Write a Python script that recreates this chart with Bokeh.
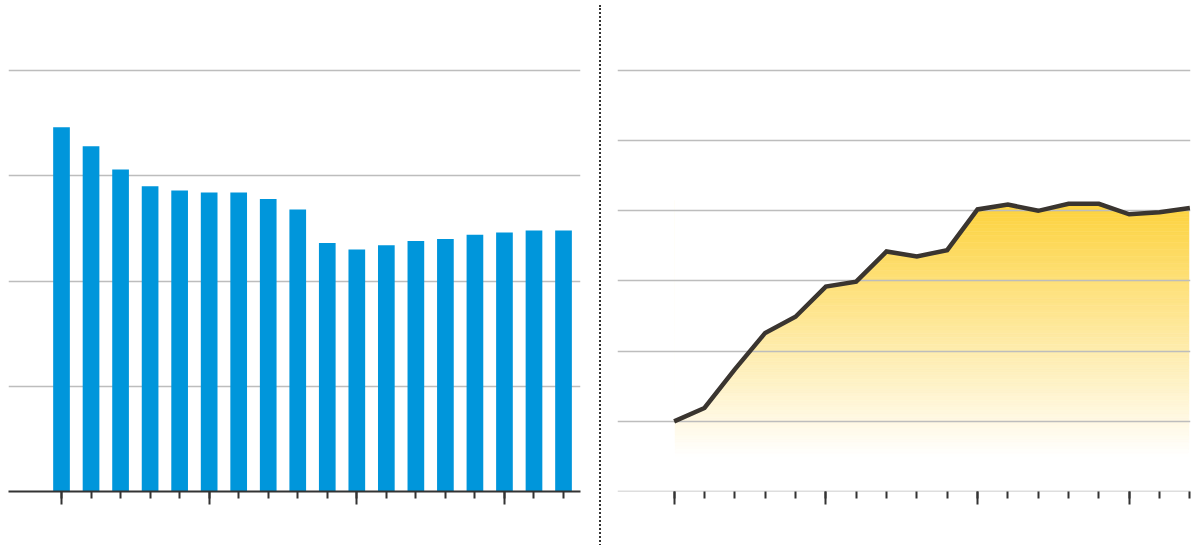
import numpy as np
from bokeh.plotting import figure
from bokeh.layouts import row
from bokeh.models import FixedTicker, Div
from bokeh.embed import file_html
from bokeh.resources import INLINE

# ---- data ----
bar_positions = list(range(18))
bar_values = [3.46, 3.28, 3.06, 2.90, 2.86, 2.84, 2.84, 2.78, 2.68,
              2.36, 2.30, 2.34, 2.38, 2.40, 2.44, 2.46, 2.48, 2.48]
line_positions = list(range(18))
line_values = [1.00, 1.19, 1.74, 2.26, 2.49, 2.92, 2.99, 3.42, 3.35,
               3.44, 4.02, 4.09, 4.00, 4.10, 4.10, 3.95, 3.98, 4.04]
major_ticks = [0, 5, 10, 15]
left_grid_levels = [1, 2, 3, 4]
right_grid_levels = [0, 1, 2, 3, 4, 5, 6]

# ---- style ----
H = 540
TOP = 8
BASE = 491
BAR_COLOR = "#0096DB"
GRID_COLOR = "#BDBDBD"
LINE_COLOR = "#3A3530"
GOLD = (253, 210, 60)
TICK_COLOR = "#333333"


def style_xaxis(ax):
    ax.ticker = FixedTicker(ticks=major_ticks, minor_ticks=bar_positions)
    ax.major_tick_out = 13
    ax.major_tick_in = 0
    ax.minor_tick_out = 7
    ax.minor_tick_in = 0
    ax.major_tick_line_width = 2
    ax.minor_tick_line_width = 2
    ax.major_tick_line_color = TICK_COLOR
    ax.minor_tick_line_color = TICK_COLOR
    ax.major_label_text_font_size = "0px"
    ax.major_label_text_color = None


# ---- left: bars ----
left = figure(width=598, height=H, x_range=(-1.795, 17.575),
              y_range=(0, (BASE - TOP) / 105.25),
              output_backend="svg", toolbar_location=None, y_axis_location=None,
              min_border_left=8, min_border_right=18, min_border_top=TOP,
              min_border_bottom=H - BASE)
left.outline_line_color = None
left.xgrid.visible = False
left.ygrid.ticker = FixedTicker(ticks=left_grid_levels)
left.ygrid.grid_line_color = GRID_COLOR
left.ygrid.grid_line_width = 1.5
left.vbar(x=bar_positions, top=bar_values, width=0.565, bottom=0,
          fill_color=BAR_COLOR, line_color=None)
style_xaxis(left.xaxis[0])
left.xaxis.axis_line_color = TICK_COLOR
left.xaxis.axis_line_width = 2

# ---- separator ----
sep = Div(width=4, height=545,
          styles={"border-left": "2px dotted #333333", "margin-left": "1px",
                  "box-sizing": "border-box"})

# ---- right: area line ----
right = figure(width=592, height=H, x_range=(-1.867, 17.02),
               y_range=(0, (BASE - TOP) / 70.17),
               output_backend="svg", toolbar_location=None, y_axis_location=None,
               min_border_left=9, min_border_right=10, min_border_top=TOP,
               min_border_bottom=H - BASE)
right.outline_line_color = None
right.grid.visible = False

x0, x1 = line_positions[0], line_positions[-1]
top_val = max(line_values)
fade_val = 0.5
step = 0.05
levels = np.arange(0.0, top_val + step, step)
bots, tops, cols = [], [], []
for lo in levels:
    mid = lo + step / 2
    t = min(max((mid - fade_val) / (top_val - fade_val), 0.0), 1.0)
    r = int(round(255 + (GOLD[0] - 255) * t))
    g = int(round(255 + (GOLD[1] - 255) * t))
    b = int(round(255 + (GOLD[2] - 255) * t))
    bots.append(float(lo))
    tops.append(float(lo + step))
    cols.append("#%02x%02x%02x" % (r, g, b))
n = len(tops)
inset = 0.03
right.quad(left=[x0 + inset] * n, right=[x1 - inset] * n, bottom=bots, top=tops,
           fill_color=cols, line_color=cols, line_width=0.6)
# white mask above the curve
right.varea(x=line_positions, y1=line_values, y2=[7.0] * len(line_values),
            fill_color="white")
right.hspan(y=right_grid_levels, line_color=GRID_COLOR, line_width=1.5)
right.line(x=line_positions, y=line_values, line_color=LINE_COLOR,
           line_width=4.5, line_join="miter")
style_xaxis(right.xaxis[0])
right.xaxis.axis_line_color = None

layout = row(left, sep, right, spacing=0)
open("out.html", "w").write(file_html(layout, INLINE))
